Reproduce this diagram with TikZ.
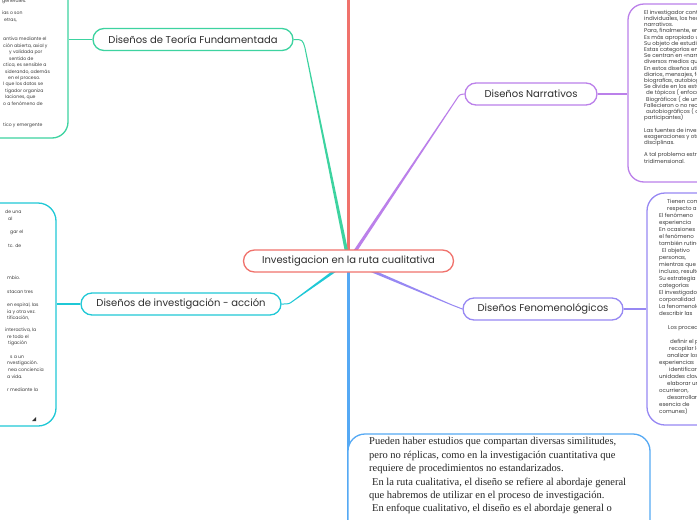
\documentclass[tikz,border=0pt]{standalone}
\usepackage{fontspec}
\setmainfont{Liberation Serif}
\newfontfamily\lblfont{Poppins}
\usetikzlibrary{calc}
\definecolor{cred}{HTML}{F0726C}
\definecolor{cgreen}{HTML}{3DD3A0}
\definecolor{ccyan}{HTML}{1FC8D6}
\definecolor{cpurple}{HTML}{BB80EA}
\definecolor{clav}{HTML}{9788F3}
\definecolor{cblue}{HTML}{55A9F4}
\definecolor{labelc}{HTML}{2E2E2E}
\definecolor{smallc}{HTML}{3C3C3C}
\pgfdeclarelayer{bg}
\pgfsetlayers{bg,main}
\newcommand\tapercon[5]{\fill[#1] ($(#2)!#4!90:(#3)$) -- ($(#3)!#5!-90:(#2)$) -- ($(#3)!#5!90:(#2)$) -- ($(#2)!#4!-90:(#3)$) -- cycle;}
\newcommand\leftfont{\lblfont\fontsize{4.6}{5.5}\selectfont}
\newcommand\rightfont{\lblfont\fontsize{5.5}{6.2}\selectfont}

\begin{document}
\begin{tikzpicture}[x=1pt,y=-1pt,
 topic/.style={draw, line width=1.3pt, fill=white, rounded corners=11pt, minimum height=22pt, inner sep=0pt, font=\lblfont\fontsize{10}{12}\selectfont, text=labelc},
 panel/.style={draw, line width=1.3pt, fill=white, rounded corners=16pt, inner sep=0pt},
 tiny/.style={inner sep=0pt, anchor=base west, text=smallc},
]
\useasboundingbox (0,0) rectangle (697,520);
\begin{scope}
\clip (0,0) rectangle (697,520);
% panels
\node[panel, draw=cgreen, minimum width=108pt, minimum height=178pt] (gb) at (14,49) {};
\node[panel, draw=ccyan, minimum width=96pt, minimum height=223pt, rounded corners=18pt] (cb) at (8,314.5) {};
\node[panel, draw=cpurple, minimum width=112pt, minimum height=178pt] (nb) at (684,93) {};
\node[panel, draw=clav, minimum width=113pt, minimum height=232pt, rounded corners=18pt] (fb) at (703.5,309) {};
\node[panel, draw=cblue, minimum width=302pt, minimum height=176pt, rounded corners=17pt] (bb) at (499,522) {};

% green panel text
\foreach \xx/\yy/\tline [count=\k] in {2/2.5/generales., 2/14.4/ias o son, 4/21.4/{etras,}, 3/40.4/antiva mediante el, 3/47.4/{ción abierta, axial y}, 9/53.4/y validada por, 9/60.4/sentido de, 3/66.4/{ctica, es sensible a}, 5/73.4/{siderando, además}, 8/79.4/en el proceso., 3/85.4/l que los datos se, 5/92.4/tigador organiza, 5/98.4/{laciones, que}, 3/105.4/o a fenómeno de, 3/126.4/tico y emergente}
  \node[tiny, font=\leftfont] (gt\k) at (\xx,\yy) {\tline};

% cyan panel text
\foreach \xx/\yy/\tline [count=\k] in {5/213.4/de una, 8/220.4/al, 10/233.4/gar el, 8/247.4/tc. de, 7/279.4/mbio., 7/293.4/stacan tres, 7/306.4/{en espiral, las}, 7/313.4/ia y otra vez., 7/319.4/{tificación,}, 5/331.4/{interactiva, la}, 7/338.4/re todo el, 8/344.4/tigación, 10/358.4/s a un, 7/364.4/nvestigación., 8/371.4/nea conciencia, 7/378.4/a vida., 7/391.4/r mediante la}
  \node[tiny, font=\leftfont] (ct\k) at (\xx,\yy) {\tline};
\fill[black!80] (36,417) -- (36,421) -- (32,421) -- cycle;

% narrative panel text
\foreach \xx/\ii/\tline in {644/0/El investigador contempla, 644/1/{individuales, los hechos}, 644/2/narrativos., 644/3/{Para, finalmente, entregar}, 644/4/Es más apropiado utilizar, 644/5/Su objeto de estudio, 644/6/Estas categorías en, 644/7/Se centran en «narrativas, 644/8/diversos medios que, 644/9/En estos diseños utiliza, 644/10/{diarios, mensajes, fotos}, 644/11/{biografías, autobiografías}, 644/12/Se divide en los estudios, 646/13/de tópicos ( enfocados, 646/14/Biográficos ( de una, 644/15/Fallecieron o no recuerdan, 646/16/autobiográficos ( de, 644/17/participantes), 644/19/Las fuentes de investigación, 644/20/exageraciones y otras, 644/21/disciplinas., 644/23/A tal problema estructura, 644/24/tridimensional.}
  \node[tiny, font=\rightfont] (nt\ii) at (\xx,14.3+6.2*\ii) {\tline};

% phenomenological panel text
\foreach \xx/\ii/\tline in {667/0/Tienen comunes, 667/1/respecto a la, 659/2/El fenómeno, 659/3/experiencia, 659/4/En ocasiones, 659/5/el fenómeno, 659/6/también rutinas, 662/7/El objetivo, 659/8/{personas,}, 659/9/mientras que, 659/10/{incluso, resulta}, 659/11/Su estrategia, 659/12/categorías, 659/13/El investigador, 659/14/corporalidad, 659/15/La fenomenología, 659/16/describir las, 668/18/Los procedimientos, 670/20/definir el problema, 669/21/recopilar los, 667/22/analizar los, 659/23/experiencias, 669/24/identificar, 659/25/unidades clave, 667/26/elaborar una, 659/27/{ocurrieron,}, 667/28/desarrollar, 659/29/esencia de, 659/30/comunes)}
  \node[tiny, font=\rightfont] (ft\ii) at (\xx,203+7*\ii) {\tline};

% blue panel text
\node[anchor=north west, inner sep=0pt, align=left, font=\fontsize{10.5}{13.4}\selectfont, text=black!85] (bt) at (369,437.5) {Pueden haber estudios que compartan diversas similitudes,\\pero no réplicas, como en la investigación cuantitativa que\\requiere de procedimientos no estandarizados.\\\hspace*{3pt}En la ruta cualitativa, el diseño se refiere al abordaje general\\que habremos de utilizar en el proceso de investigación.\\\hspace*{3pt}En enfoque cualitativo, el diseño es el abordaje general o};

% topic nodes
\node[topic, draw=cred, minimum width=210pt] (c) at (348.5,261) {Investigacion en la ruta cualitativa};
\node[topic, draw=cgreen, minimum width=200pt] (g) at (193,39.5) {Diseños de Teoría Fundamentada};
\node[topic, draw=ccyan, minimum width=200pt] (cy) at (181,304) {Diseños de investigación - acción};
\node[topic, draw=cpurple, minimum width=132pt] (n) at (531,94) {Diseños Narrativos};
\node[topic, draw=clav, minimum width=160pt] (f) at (543,309) {Diseños Fenomenológicos};
\end{scope}

\coordinate (rt) at (348.5,-5);
\coordinate (gk) at (305,48);
\coordinate (nk) at (456,100);
\coordinate (fk) at (452,305);
\coordinate (ck) at (293,301);

\begin{pgfonlayer}{bg}
\fill[white] (0,0) rectangle (697,520);
\draw[cred, line width=2.2pt] (c.center) -- (c.center |- rt);
\draw[cblue, line width=2.2pt] (c.center) -- (c.center |- bb.west);
\tapercon{cgreen}{c.center}{gk}{1.7pt}{0.5pt}
\draw[cgreen, line width=1pt] (gk) .. controls (302.5,39.5) .. (g.east);
\tapercon{cpurple}{c.center}{nk}{1.7pt}{0.5pt}
\draw[cpurple, line width=1pt] (nk) .. controls (459.5,94.5) .. (n.west);
\tapercon{clav}{c.center}{fk}{1.7pt}{0.5pt}
\draw[clav, line width=1pt] (fk) .. controls (457,307.5) .. (f.west);
\tapercon{ccyan}{c.center}{ck}{1.7pt}{0.5pt}
\draw[ccyan, line width=1pt] (ck) .. controls (289,304) .. (cy.east);
\draw[cgreen, line width=1.3pt] (g.west) -- (g.west -| gb.east);
\draw[ccyan, line width=1.3pt] (cy.west) -- (cy.west -| cb.east);
\draw[cpurple, line width=1.3pt] (n.east) -- (n.east -| nb.west);
\draw[clav, line width=1.3pt] (f.east) -- (f.east -| fb.west);
\end{pgfonlayer}
\end{tikzpicture}
\end{document}
